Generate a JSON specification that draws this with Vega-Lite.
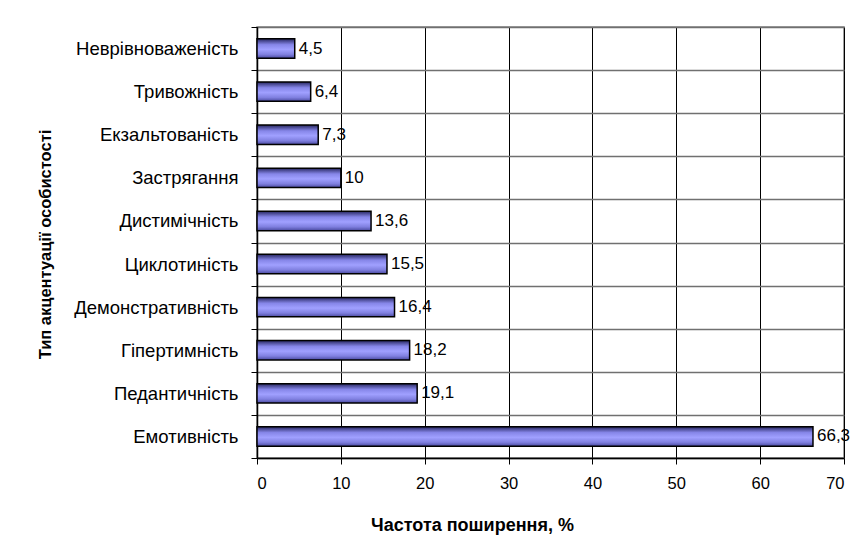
{
  "$schema": "https://vega.github.io/schema/vega-lite/v6.json",
  "width": 587,
  "height": 431,
  "autosize": {"type": "none"},
  "padding": {"left": 257, "top": 27, "right": 12, "bottom": 99},
  "background": "#ffffff",
  "config": {
    "font": "Liberation Sans",
    "view": {"stroke": "#808080", "strokeWidth": 1.5}
  },
  "data": {
    "values": [
      {"type": "Неврівноваженість", "value": 4.5, "label": "4,5"},
      {"type": "Тривожність", "value": 6.4, "label": "6,4"},
      {"type": "Екзальтованість", "value": 7.3, "label": "7,3"},
      {"type": "Застрягання", "value": 10, "label": "10"},
      {"type": "Дистимічність", "value": 13.6, "label": "13,6"},
      {"type": "Циклотиність", "value": 15.5, "label": "15,5"},
      {"type": "Демонстративність", "value": 16.4, "label": "16,4"},
      {"type": "Гіпертимність", "value": 18.2, "label": "18,2"},
      {"type": "Педантичність", "value": 19.1, "label": "19,1"},
      {"type": "Емотивність", "value": 66.3, "label": "66,3"}
    ]
  },
  "encoding": {
    "y": {
      "field": "type",
      "type": "nominal",
      "sort": null,
      "scale": {"paddingInner": 0, "paddingOuter": 0},
      "axis": {
        "title": "Тип акцентуації особистості",
        "titleFont": "Liberation Sans",
        "titleFontSize": 16.5,
        "titleFontWeight": "bold",
        "titleColor": "#000000",
        "titleAngle": -90,
        "titleX": -212,
        "titleY": 217,
        "titleAlign": "center",
        "titleBaseline": "middle",
        "labelFontSize": 18.5,
        "labelColor": "#000000",
        "labelPadding": 13,
        "tickSize": 6,
        "tickColor": "#000000",
        "tickBand": "extent",
        "bandPosition": 0,
        "grid": true,
        "gridColor": "#707070",
        "gridWidth": 1.5,
        "domainColor": "#000000",
        "domainWidth": 1.5
      }
    },
    "x": {
      "field": "value",
      "type": "quantitative",
      "scale": {"domain": [0, 70], "nice": false},
      "axis": {
        "values": [0, 10, 20, 30, 40, 50, 60, 70],
        "title": "Частота поширення, %",
        "titleFontSize": 18,
        "titleFontWeight": "bold",
        "titleColor": "#000000",
        "titleX": 215,
        "titleY": 67,
        "titleAlign": "center",
        "titleBaseline": "middle",
        "labelFontSize": 16.5,
        "labelColor": "#000000",
        "labelPadding": 11,
        "tickSize": 6,
        "tickColor": "#000000",
        "grid": true,
        "gridColor": "#000000",
        "gridWidth": 1,
        "domainColor": "#000000",
        "domainWidth": 1.5
      }
    }
  },
  "layer": [
    {
      "mark": {
        "type": "bar",
        "height": {"band": 0.45},
        "stroke": "#000000",
        "strokeWidth": 1.5,
        "fill": {
          "gradient": "linear",
          "x1": 0, "y1": 0, "x2": 0, "y2": 1,
          "stops": [
            {"offset": 0, "color": "#262660"},
            {"offset": 0.3, "color": "#8686e8"},
            {"offset": 0.55, "color": "#a0a0ff"},
            {"offset": 0.8, "color": "#8080e0"},
            {"offset": 1, "color": "#4a4aa0"}
          ]
        }
      }
    },
    {
      "mark": {
        "type": "text",
        "align": "left",
        "baseline": "middle",
        "dx": 4,
        "fontSize": 17,
        "color": "#000000"
      },
      "encoding": {"text": {"field": "label"}}
    }
  ]
}
